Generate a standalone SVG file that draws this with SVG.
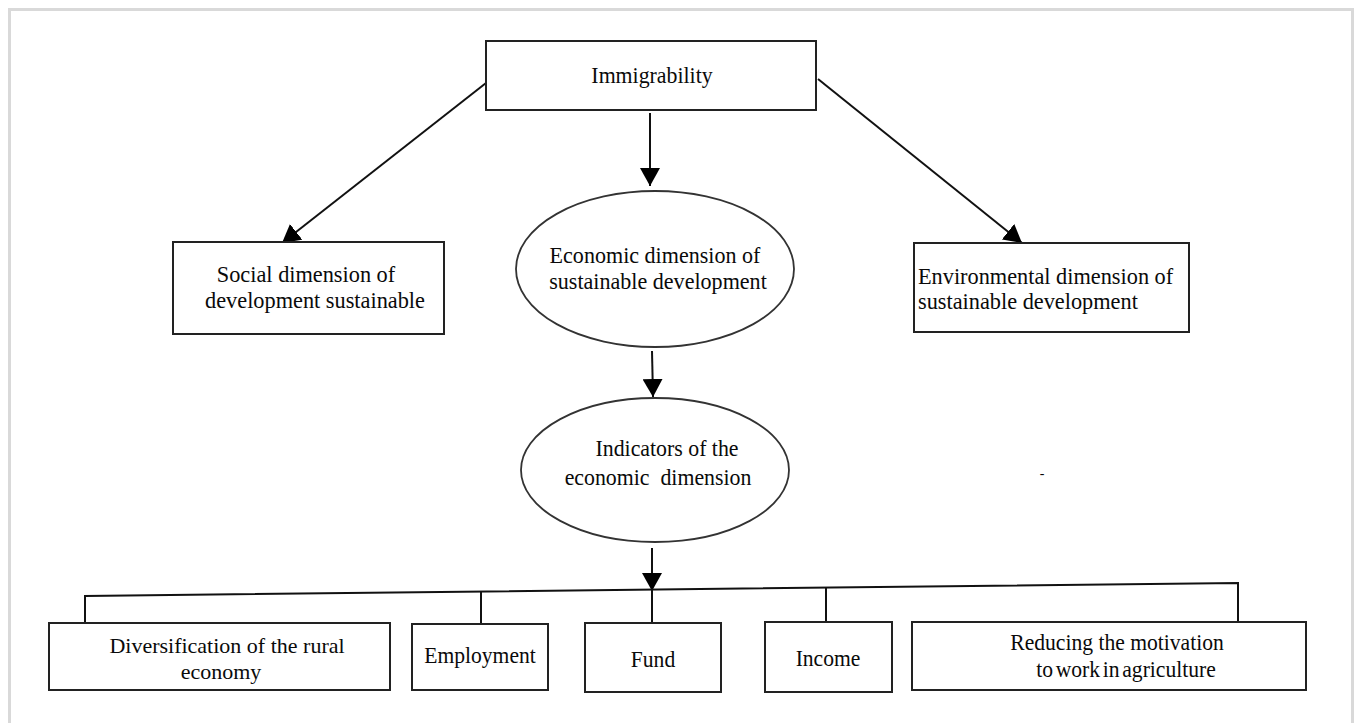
<svg xmlns="http://www.w3.org/2000/svg" width="1358" height="723" viewBox="0 0 1358 723">
<defs>
<style>
.box{fill:#fff;stroke:#222;stroke-width:2}
.ell{fill:#fff;stroke:#333;stroke-width:1.8}
.t{font-family:"Liberation Serif","Times New Roman",serif;font-size:24px;fill:#0a0a0a;text-anchor:middle}
.tl{font-family:"Liberation Serif","Times New Roman",serif;font-size:24px;fill:#0a0a0a;text-anchor:start}
.s{font-size:22px}
.c{fill:none;stroke:#111;stroke-width:2}
</style>
<marker id="arr" viewBox="0 0 18 20" refX="18" refY="10" markerWidth="18" markerHeight="20" markerUnits="userSpaceOnUse" orient="auto">
<path d="M0,0 L18,10 L0,20 Z" fill="#000"/>
</marker>
</defs>
<rect x="0" y="0" width="1358" height="723" fill="#fff"/>
<rect x="9.5" y="9.5" width="1343" height="730" fill="none" stroke="#d9d9d9" stroke-width="3"/>

<g id="connectors">
<line class="c" x1="486" y1="83" x2="282" y2="243" marker-end="url(#arr)"/>
<line class="c" x1="818" y1="79" x2="1022" y2="243" marker-end="url(#arr)"/>
<line class="c" x1="650" y1="113" x2="650" y2="186" marker-end="url(#arr)"/>
<line class="c" x1="652" y1="351" x2="653" y2="397" marker-end="url(#arr)"/>
<line class="c" x1="652" y1="548" x2="652" y2="591" marker-end="url(#arr)"/>
<polyline class="c" points="85,623 85,596 1238,583 1238,622"/>
<line class="c" x1="481" y1="591.5" x2="481" y2="624"/>
<line class="c" x1="652" y1="589.6" x2="652" y2="623"/>
<line class="c" x1="826" y1="587.6" x2="826" y2="622"/>
</g>

<g id="immigrability">
<rect class="box" x="486" y="41" width="330" height="69"/>
<text class="t" transform="translate(652,83) scale(0.91,1)">Immigrability</text>
</g>

<g id="social">
<rect class="box" x="173" y="242" width="271" height="92"/>
<text class="t" transform="translate(306,282) scale(0.93,1)">Social dimension of</text>
<text class="t" transform="translate(315,308) scale(0.93,1)">development sustainable</text>
</g>

<g id="economic">
<ellipse class="ell" cx="655" cy="269" rx="139" ry="78"/>
<text class="t" transform="translate(655,263) scale(0.92,1)">Economic dimension of</text>
<text class="t" transform="translate(658,289) scale(0.92,1)">sustainable development</text>
</g>

<g id="environmental">
<rect class="box" x="914" y="243" width="275" height="89"/>
<text class="tl" transform="translate(918,284) scale(0.93,1)">Environmental dimension of</text>
<text class="tl" transform="translate(918,309) scale(0.93,1)">sustainable development</text>
</g>

<g id="indicators">
<ellipse class="ell" cx="655" cy="470" rx="134" ry="72"/>
<text class="t" transform="translate(667,456) scale(0.91,1)">Indicators of the</text>
<text class="t" transform="translate(658,485) scale(0.91,1)" xml:space="preserve">economic  dimension</text>
</g>

<text class="t" x="1042" y="478" style="font-size:14px">-</text>

<g id="diversification">
<rect class="box" x="49" y="623" width="341" height="67"/>
<text class="t s" x="227" y="653">Diversification of the rural</text>
<text class="t s" x="221" y="679">economy</text>
</g>

<g id="employment">
<rect class="box" x="412" y="624" width="136" height="66"/>
<text class="t" transform="translate(480,663) scale(0.9,1)">Employment</text>
</g>

<g id="fund">
<rect class="box" x="585" y="623" width="136" height="69"/>
<text class="t" transform="translate(653,667) scale(0.9,1)">Fund</text>
</g>

<g id="income">
<rect class="box" x="765" y="622" width="127" height="70"/>
<text class="t" transform="translate(828,666) scale(0.9,1)">Income</text>
</g>

<g id="reducing">
<rect class="box" x="912" y="622" width="394" height="68"/>
<text class="t" transform="translate(1117,650) scale(0.9,1)">Reducing the motivation</text>
<text class="t" transform="translate(1126,677) scale(0.9,1)" style="word-spacing:-3px">to work in agriculture</text>
</g>
</svg>
